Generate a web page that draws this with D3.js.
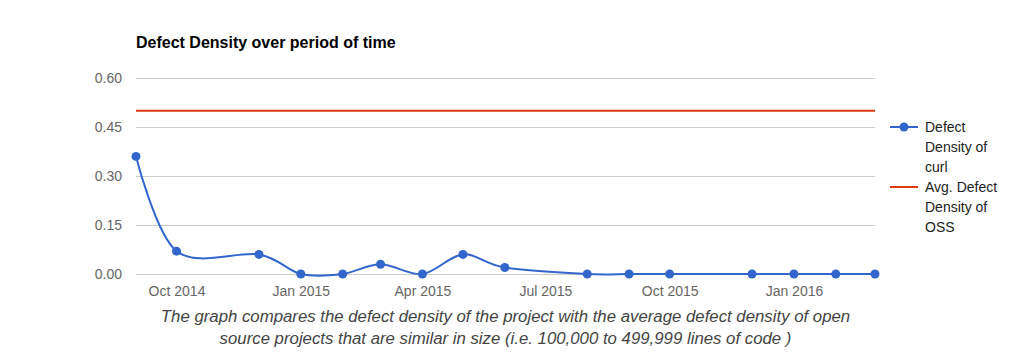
<!DOCTYPE html>
<html>
<head>
<meta charset="utf-8">
<script src="https://cdn.jsdelivr.net/npm/d3@7"></script>
<style>
  body { margin: 0; background: #fff; font-family: "Liberation Sans", Arial, sans-serif; }
  .caption { position: absolute; left: 0; top: 306px; width: 1011px; text-align: center;
             font-style: italic; font-size: 16.8px; line-height: 22px; color: #444; }
</style>
</head>
<body>
<div id="GraphHolder"></div>
<div class="caption">The graph compares the defect density of the project with the average defect density of open<br>source projects that are similar in size (i.e. 100,000 to 499,999 lines of code )</div>
<script>
// data
var dates = ["2014-09-01", "2014-10-01", "2014-12-01", "2015-01-01", "2015-02-01", "2015-03-01",
             "2015-04-01", "2015-05-01", "2015-06-01", "2015-08-01", "2015-09-01", "2015-10-01",
             "2015-12-01", "2016-01-01", "2016-02-01", "2016-03-01"];
var curlDensity = [0.36, 0.07, 0.06, 0, 0, 0.03, 0, 0.06, 0.02, 0, 0, 0, 0, 0, 0, 0];
var ossAverage = 0.5;
var yTicks = [0, 0.15, 0.30, 0.45, 0.60];
var xTicks = ["2014-10-01", "2015-01-01", "2015-04-01", "2015-07-01", "2015-10-01", "2016-01-01"];
var legendLabels = [["Defect", "Density of", "curl"], ["Avg. Defect", "Density of", "OSS"]];

var parse = d3.timeParse("%Y-%m-%d");
var data = dates.map(function(d, i) { return {date: parse(d), value: curlDensity[i]}; });

var margin = {top: 78, left: 136},
    width = 739,
    height = 196;

var svg = d3.select("#GraphHolder").append("svg")
    .attr("width", 1011)
    .attr("height", 353)
    .style("font-family", "'Liberation Sans', Arial, sans-serif");

// title
svg.append("text")
    .attr("x", 136)
    .attr("y", 48)
    .style("font-size", "16px")
    .style("font-weight", "bold")
    .style("fill", "#000")
    .text("Defect Density over period of time");

var g = svg.append("g")
    .attr("transform", "translate(" + margin.left + "," + margin.top + ")");

var x = d3.scaleTime()
    .domain([parse(dates[0]), parse(dates[dates.length - 1])])
    .range([0, width]);
var y = d3.scaleLinear()
    .domain([0, 0.6])
    .range([height, 0]);

// grid + y labels
var yAxis = g.append("g")
    .attr("class", "yaxis")
    .call(d3.axisLeft(y)
        .tickValues(yTicks)
        .tickSize(-width)
        .tickPadding(14)
        .tickFormat(d3.format(".2f")));
yAxis.select(".domain").remove();
yAxis.selectAll("line").style("stroke", "#ccc");
yAxis.selectAll("text")
    .style("font-size", "14px")
    .style("fill", "#666");

// x labels
var xAxis = g.append("g")
    .attr("class", "xaxis")
    .attr("transform", "translate(0," + height + ")")
    .call(d3.axisBottom(x)
        .tickValues(xTicks.map(parse))
        .tickSize(0)
        .tickPadding(12)
        .tickFormat(d3.timeFormat("%b %Y")));
xAxis.select(".domain").remove();
xAxis.selectAll("text")
    .style("font-size", "14px")
    .style("fill", "#666");

// OSS average line
g.append("line")
    .attr("x1", 0)
    .attr("x2", width)
    .attr("y1", y(ossAverage))
    .attr("y2", y(ossAverage))
    .style("stroke", "#dc3912")
    .style("stroke-width", 2);

// curl line
var line = d3.line()
    .x(function(d) { return x(d.date); })
    .y(function(d) { return y(d.value); })
    .curve(d3.curveCardinal);

g.append("path")
    .datum(data)
    .attr("d", line)
    .style("fill", "none")
    .style("stroke", "#3366cc")
    .style("stroke-width", 2);

g.selectAll(".dot")
    .data(data)
    .enter().append("circle")
    .attr("class", "dot")
    .attr("cx", function(d) { return x(d.date); })
    .attr("cy", function(d) { return y(d.value); })
    .attr("r", 4.5)
    .style("fill", "#3366cc");

// legend
var legend = svg.append("g").attr("transform", "translate(890,0)");
var colors = ["#3366cc", "#dc3912"];
var legendTops = [127, 187];
legendLabels.forEach(function(lines, i) {
    var item = legend.append("g").attr("transform", "translate(0," + legendTops[i] + ")");
    item.append("line")
        .attr("x1", 0).attr("x2", 28)
        .attr("y1", 0).attr("y2", 0)
        .style("stroke", colors[i])
        .style("stroke-width", 2);
    if (i === 0) {
        item.append("circle").attr("cx", 14).attr("cy", 0).attr("r", 4.5).style("fill", colors[i]);
    }
    item.selectAll("text")
        .data(lines)
        .enter().append("text")
        .attr("x", 35)
        .attr("y", function(d, j) { return j * 20 + 5; })
        .style("font-size", "14px")
        .style("fill", "#222")
        .text(function(d) { return d; });
});
</script>
</body>
</html>
